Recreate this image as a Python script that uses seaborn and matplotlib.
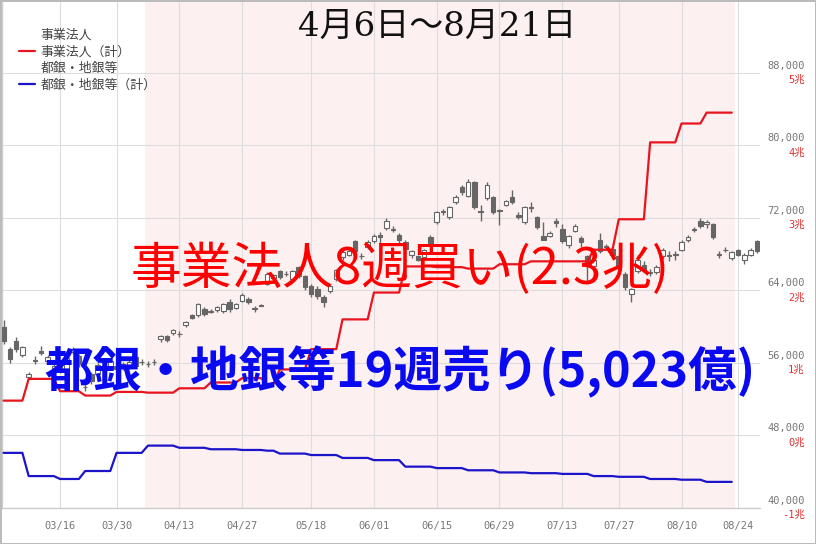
import numpy as np
import pandas as pd
import matplotlib
matplotlib.use("Agg")
import matplotlib.pyplot as plt
from matplotlib.lines import Line2D
import seaborn as sns

# --- データ (2026年, 日足) ---
dates = (
    ["03/03", "03/04", "03/05", "03/06", "03/09", "03/10", "03/11", "03/12", "03/13", "03/16",
     "03/17", "03/18", "03/19", "03/23", "03/24", "03/25", "03/26", "03/27", "03/30", "03/31"]
    + ["04/01", "04/02", "04/03", "04/06", "04/07", "04/08", "04/09", "04/10", "04/13", "04/14",
       "04/15", "04/16", "04/17", "04/20", "04/21", "04/22", "04/23", "04/24", "04/27", "04/28", "04/30"]
    + ["05/01", "05/07", "05/08", "05/11", "05/12", "05/13", "05/14", "05/15", "05/18", "05/19",
       "05/20", "05/21", "05/22", "05/25", "05/26", "05/27", "05/28", "05/29"]
    + ["06/01", "06/02", "06/03", "06/04", "06/05", "06/08", "06/09", "06/10", "06/11", "06/12",
       "06/15", "06/16", "06/17", "06/18", "06/19", "06/22", "06/23", "06/24", "06/25", "06/26",
       "06/29", "06/30"]
    + ["07/01", "07/02", "07/03", "07/06", "07/07", "07/08", "07/09", "07/10", "07/13", "07/14",
       "07/15", "07/16", "07/17", "07/21", "07/22", "07/23", "07/24", "07/27", "07/28", "07/29",
       "07/30", "07/31"]
    + ["08/03", "08/04", "08/05", "08/06", "08/07", "08/10", "08/12", "08/13", "08/14", "08/17",
       "08/18", "08/19", "08/20", "08/21", "08/24", "08/25", "08/26", "08/27"]
)

opens = [60000, 57500, 58400, 56850, 54450, 56250, 57300, 56200, 55100, 55600,
         55300, 57200, 56800, 53300, 54750, 54800, 55700, 55400, 55700, 55400,
         55500, 56600, 56050, 55850, 56050, 58600, 58950, 59250, 59150, 60150,
         61250, 61250, 62000, 61650, 61800, 61700, 62700, 62100, 62800, 63100,
         61950, 62400, 64750, 65400, 66100, 65750, 65200, 66550, 65550, 64450,
         64200, 63250, 63900, 65200, 67650, 67950, 69400, 67750, 68750, 69400,
         70150, 70850, 70700, 70150, 69300, 67850, 67750, 67700, 69850, 71500,
         72650, 72050, 73700, 75450, 74450, 76000, 72800, 74150, 74250, 72850,
         73450, 74350, 72350, 71500, 73100, 72050, 69950, 70050, 71600, 70800,
         69050, 70600, 69750, 67750, 66700, 69600, 68900, 68600, 67800, 65800,
         63550, 66100, 66850, 65950, 66000, 67750, 67800, 67900, 68500, 69500,
         70700, 71600, 71300, 71300, 68050, 68400, 67550, 68400, 67400, 67950,
         69400]
highs = [60700, 57800, 58900, 57900, 55050, 56750, 57850, 56900, 55900, 56000,
         56800, 57800, 57000, 53650, 55000, 56000, 56100, 56400, 56000, 56100,
         56300, 56900, 56400, 56200, 56400, 59100, 59100, 59750, 59500, 60650,
         61400, 62600, 62200, 61900, 62300, 62600, 63000, 62600, 63700, 63300,
         62250, 62500, 66000, 65850, 66300, 66100, 66300, 66700, 65700, 64700,
         64500, 63450, 64700, 66350, 68400, 68500, 69600, 68100, 69500, 70200,
         70400, 71950, 71050, 70300, 69500, 68500, 67900, 68600, 70100, 72800,
         73000, 73300, 74500, 75600, 76300, 76100, 73450, 75900, 74400, 73000,
         74000, 75100, 72600, 73300, 73700, 72200, 71500, 70600, 72000, 71300,
         70100, 71300, 69950, 67900, 67600, 70300, 69100, 68800, 68000, 66000,
         64300, 67900, 67200, 66400, 66850, 68700, 68300, 68300, 69500, 70100,
         71000, 72000, 71800, 71450, 68300, 68800, 68350, 68600, 68100, 68700,
         69500]
lows = [58100, 56000, 57200, 56700, 54200, 55850, 56850, 56000, 54900, 54900,
        55100, 57000, 55600, 52900, 53700, 54600, 55200, 55200, 55000, 55200,
        55300, 55400, 55800, 55600, 55800, 58300, 58300, 59100, 58900, 60000,
        60800, 61100, 61200, 61450, 61650, 61550, 61600, 61950, 62700, 62550,
        61600, 62250, 64600, 65200, 65250, 65550, 65000, 65400, 64000, 63300,
        63100, 62150, 63700, 65000, 67400, 67750, 68100, 67500, 68550, 69200,
        69050, 70700, 70450, 69050, 68400, 67600, 67200, 67500, 68900, 71300,
        72300, 71900, 73500, 74500, 74300, 73000, 71600, 74000, 72400, 71250,
        73300, 73500, 71900, 71300, 72600, 70800, 69500, 69900, 70950, 69200,
        68700, 70400, 68800, 65000, 66500, 68100, 68400, 67600, 66200, 64000,
        62700, 65900, 66100, 65600, 65800, 67500, 67200, 67300, 68300, 69300,
        70450, 70900, 70900, 69700, 67600, 68200, 67400, 67800, 66900, 67800,
        68100]
closes = [58400, 56400, 57500, 57700, 54750, 56350, 57050, 56650, 55650, 55200,
          56500, 57500, 55900, 53350, 54000, 55800, 55500, 56200, 55300, 55900,
          56050, 55650, 56100, 55900, 56100, 58950, 58500, 59600, 59200, 60500,
          60900, 62450, 61350, 61700, 62150, 62450, 61900, 62450, 63450, 62700,
          62000, 62300, 65850, 65650, 65450, 65800, 66100, 65550, 64350, 63550,
          63350, 62700, 64450, 66200, 68200, 68300, 68300, 67800, 69300, 70050,
          69850, 71600, 70750, 69500, 68600, 68300, 67400, 68400, 69050, 72600,
          72700, 73150, 74350, 74800, 76000, 73150, 72650, 75650, 72600, 72700,
          73800, 73700, 72050, 73150, 73150, 70950, 69600, 70300, 71400, 69400,
          69950, 71050, 69300, 66650, 67400, 68300, 68750, 67900, 66500, 64350,
          64100, 67400, 66300, 66000, 66550, 68500, 67850, 67950, 69300, 69850,
          70750, 71050, 71500, 69850, 67950, 68450, 68200, 67950, 67950, 68500,
          68300]

# 週次 累計 (兆円)
week_starts = ["03/02", "03/09", "03/16", "03/23", "03/30", "04/06", "04/13", "04/20", "04/27",
               "05/04", "05/11", "05/18", "05/25", "06/01", "06/08", "06/15", "06/22", "06/29",
               "07/06", "07/13", "07/20", "07/27", "08/03", "08/10", "08/17"]
corp_cum = [0.48, 0.78, 0.61, 0.55, 0.60, 0.59, 0.65, 0.73, 0.79, 0.71, 0.91, 1.19, 1.60,
            1.97, 2.33, 2.32, 2.30, 2.36, 2.40, 2.40, 2.56, 2.98, 4.04, 4.30, 4.45]
bank_cum = [-0.24, -0.56, -0.60, -0.49, -0.24, -0.14, -0.17, -0.19, -0.20, -0.21, -0.25, -0.27,
            -0.31, -0.34, -0.43, -0.45, -0.48, -0.51, -0.52, -0.53, -0.56, -0.57, -0.60,
            -0.61, -0.64]

price_ticks = [40000, 48000, 56000, 64000, 72000, 80000, 88000]
cho_ticks = [-1, 0, 1, 2, 3, 4, 5]
tick_dates = ["03/16", "03/30", "04/13", "04/27", "05/18", "06/01", "06/15", "06/29",
              "07/13", "07/27", "08/10", "08/24"]
span_from, span_to = "04/06", "08/21"

# --- 整形 ---
df = pd.DataFrame({"date": pd.to_datetime(["2026/" + d for d in dates]),
                   "open": opens, "high": highs, "low": lows, "close": closes})
df["i"] = np.arange(len(df))
df["week"] = df["date"] - pd.to_timedelta(df["date"].dt.weekday, unit="D")
wk = pd.DataFrame({"week": pd.to_datetime(["2026/" + d for d in week_starts]),
                   "corp": corp_cum, "bank": bank_cum})
df = df.merge(wk, on="week", how="left")
pos = {d: i for i, d in enumerate(dates)}

PMIN, PMAX = 40000, 95800
to_cho = lambda p: (p - 48000) / 8000

sns.set_theme(style="white")
plt.rcParams["font.family"] = ["DejaVu Sans", "Noto Sans CJK JP"]

fig = plt.figure(figsize=(8.16, 5.44), dpi=100)
fig.patch.set_edgecolor("#bbbbbb")
fig.patch.set_linewidth(2)
ax = fig.add_axes([2 / 816, 36 / 544, 758 / 816, 506 / 544])

ax.axvspan(pos[span_from] - 0.5, pos[span_to] + 0.5, color="#fdf0f0", zorder=0, lw=0)

# ローソク足
up = df["close"] >= df["open"]
ax.vlines(df["i"], df["low"], df["high"], color="#666666", lw=1, zorder=2)
body_h = (df["close"] - df["open"]).abs().clip(lower=60)
body_b = df[["open", "close"]].min(axis=1)
ax.bar(df["i"][up], body_h[up], bottom=body_b[up], width=0.72, color="white",
       edgecolor="#666666", linewidth=0.8, zorder=3)
ax.bar(df["i"][~up], body_h[~up], bottom=body_b[~up], width=0.72, color="#666666",
       edgecolor="#666666", linewidth=0.8, zorder=3)

ax.set_xlim(-0.25, 120.5)
ax.set_ylim(PMIN, PMAX)
ax.set_yticks(price_ticks)
ax.set_yticklabels([])
ax.tick_params(axis="y", length=0)
ax.set_xticks([pos[d] for d in tick_dates])
ax.set_xticklabels(tick_dates, family="DejaVu Sans Mono", fontsize=7.5, color="#777777")
ax.tick_params(axis="x", length=7, width=0.8, color="#dddddd", pad=2)
ax.grid(True, color="#dddddd", lw=0.8)
ax.set_axisbelow(True)
for s in ["top", "right"]:
    ax.spines[s].set_visible(False)
for s in ["left", "bottom"]:
    ax.spines[s].set_color("#cccccc")
    ax.spines[s].set_linewidth(1)

# 右側の目盛り
ytr = ax.get_yaxis_transform()
for p, c in zip(price_ticks, cho_ticks):
    ax.annotate(f"{p:,}", xy=(1.059, p), xycoords=ytr, xytext=(0, 1.5),
                textcoords="offset points", ha="right", va="bottom",
                family="DejaVu Sans Mono", fontsize=7.5, color="#777777", annotation_clip=False)
    ax.annotate(f"{c}兆", xy=(1.059, p), xycoords=ytr, xytext=(0, -1.5),
                textcoords="offset points", ha="right", va="top",
                family=["DejaVu Sans Mono", "Noto Sans CJK JP"], fontsize=7.5,
                color="#e03030", annotation_clip=False)

# 累計ライン (兆)
ax2 = ax.twinx()
ax2.set_ylim(to_cho(PMIN), to_cho(PMAX))
sns.lineplot(data=df, x="i", y="corp", ax=ax2, color="#e8141e", lw=1.6, legend=False)
sns.lineplot(data=df, x="i", y="bank", ax=ax2, color="#1c14c8", lw=1.6, legend=False)
ax2.set_axis_off()
ax2.set_xlim(ax.get_xlim())

handles = [Line2D([], [], color="none"), Line2D([], [], color="#e8141e", lw=1.6),
           Line2D([], [], color="none"), Line2D([], [], color="#1c14c8", lw=1.6)]
labels = ["事業法人", "事業法人（計）", "都銀・地銀等", "都銀・地銀等（計）"]
ax2.legend(handles, labels, loc="upper left", bbox_to_anchor=(19 / 816, 1 - 29 / 544),
           bbox_transform=fig.transFigure, frameon=False, fontsize=9.3, borderpad=0,
           borderaxespad=0, handlelength=1.25, handletextpad=0.4, labelspacing=0.28,
           labelcolor="#444444")

# 注記
fig.text(437 / 816, 1 - 27 / 544, "4月6日～8月21日", ha="center", va="center",
         fontsize=24.5, color="#111111", family=["DejaVu Serif", "Noto Sans CJK JP"])
fig.text(400 / 816, 1 - 270 / 544, "事業法人8週買い(2.3兆)", ha="center", va="center",
         fontsize=36.5, color="#ff0000", family="Noto Sans CJK JP")
fig.text(400 / 816, 1 - 372 / 544, "都銀・地銀等19週売り(5,023億)", ha="center", va="center",
         fontsize=35, color="#0a0af0", family="Noto Sans CJK JP", fontweight="bold")

fig.savefig("out.png", dpi=100)
